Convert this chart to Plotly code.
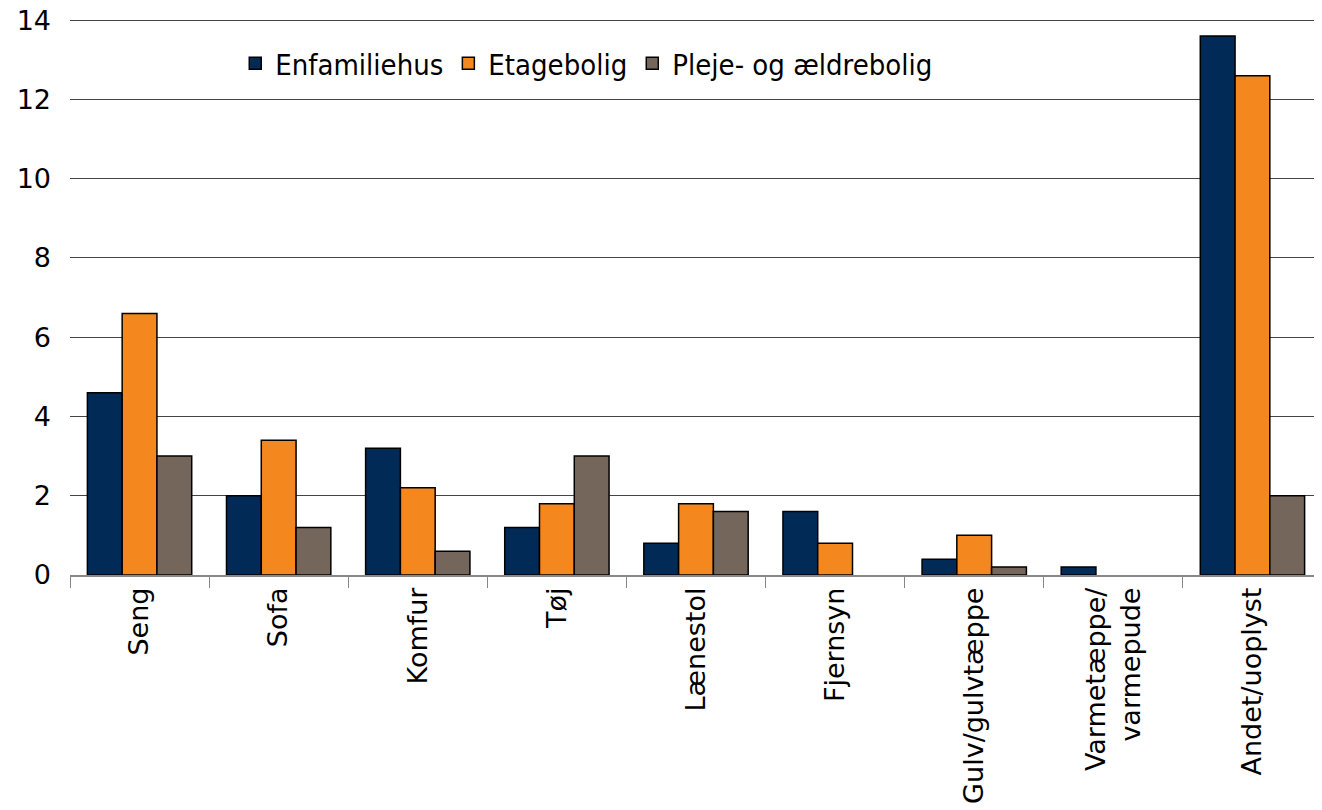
import plotly.graph_objects as go

# data
categories = ["Seng", "Sofa", "Komfur", "Tøj", "Lænestol", "Fjernsyn",
              "Gulv/gulvtæppe", "Varmetæppe/<br>varmepude", "Andet/uoplyst"]
enfamiliehus = [4.6, 2.0, 3.2, 1.2, 0.8, 1.6, 0.4, 0.2, 13.6]
etagebolig = [6.6, 3.4, 2.2, 1.8, 1.8, 0.8, 1.0, None, 12.6]
pleje = [3.0, 1.2, 0.6, 3.0, 1.6, None, 0.2, None, 2.0]
y_ticks = [0, 2, 4, 6, 8, 10, 12, 14]

series = [
    ("Enfamiliehus", enfamiliehus, "#012a57"),
    ("Etagebolig", etagebolig, "#f5871f"),
    ("Pleje- og ældrebolig", pleje, "#75665b"),
]

fig = go.Figure()
for name, vals, col in series:
    fig.add_trace(go.Bar(x=categories, y=vals, name=name,
                         marker=dict(color=col, line=dict(color="black", width=1.5))))

# page body adds an 8px offset, so margins are trimmed by that
fig.update_layout(
    width=1314, height=802,
    margin=dict(l=62, r=0, t=11, b=235),
    plot_bgcolor="white", paper_bgcolor="white",
    barmode="group", bargap=0.25, bargroupgap=0,
    font=dict(family="DejaVu Sans", size=27, color="black"),
    legend=dict(orientation="h", x=0.132, y=0.92, xanchor="left", yanchor="middle",
                font=dict(family="DejaVu Sans Condensed, DejaVu Sans", size=29),
                bgcolor="rgba(0,0,0,0)", traceorder="normal"),
)
fig.update_xaxes(showline=True, linecolor="#888", linewidth=1.5,
                 ticks="outside", tickson="boundaries", ticklen=11, tickcolor="#888",
                 tickangle=-90, tickfont=dict(size=27), range=[-0.5, 8.5],
                 automargin=False)
fig.update_yaxes(range=[0, 14.03], tickvals=y_ticks, showgrid=True, gridcolor="#444",
                 gridwidth=1, zeroline=False, showline=False, ticks="",
                 tickfont=dict(size=27), ticklabelstandoff=18, automargin=False,
                 ticklabeloverflow="allow")

fig.write_html("out.html")
